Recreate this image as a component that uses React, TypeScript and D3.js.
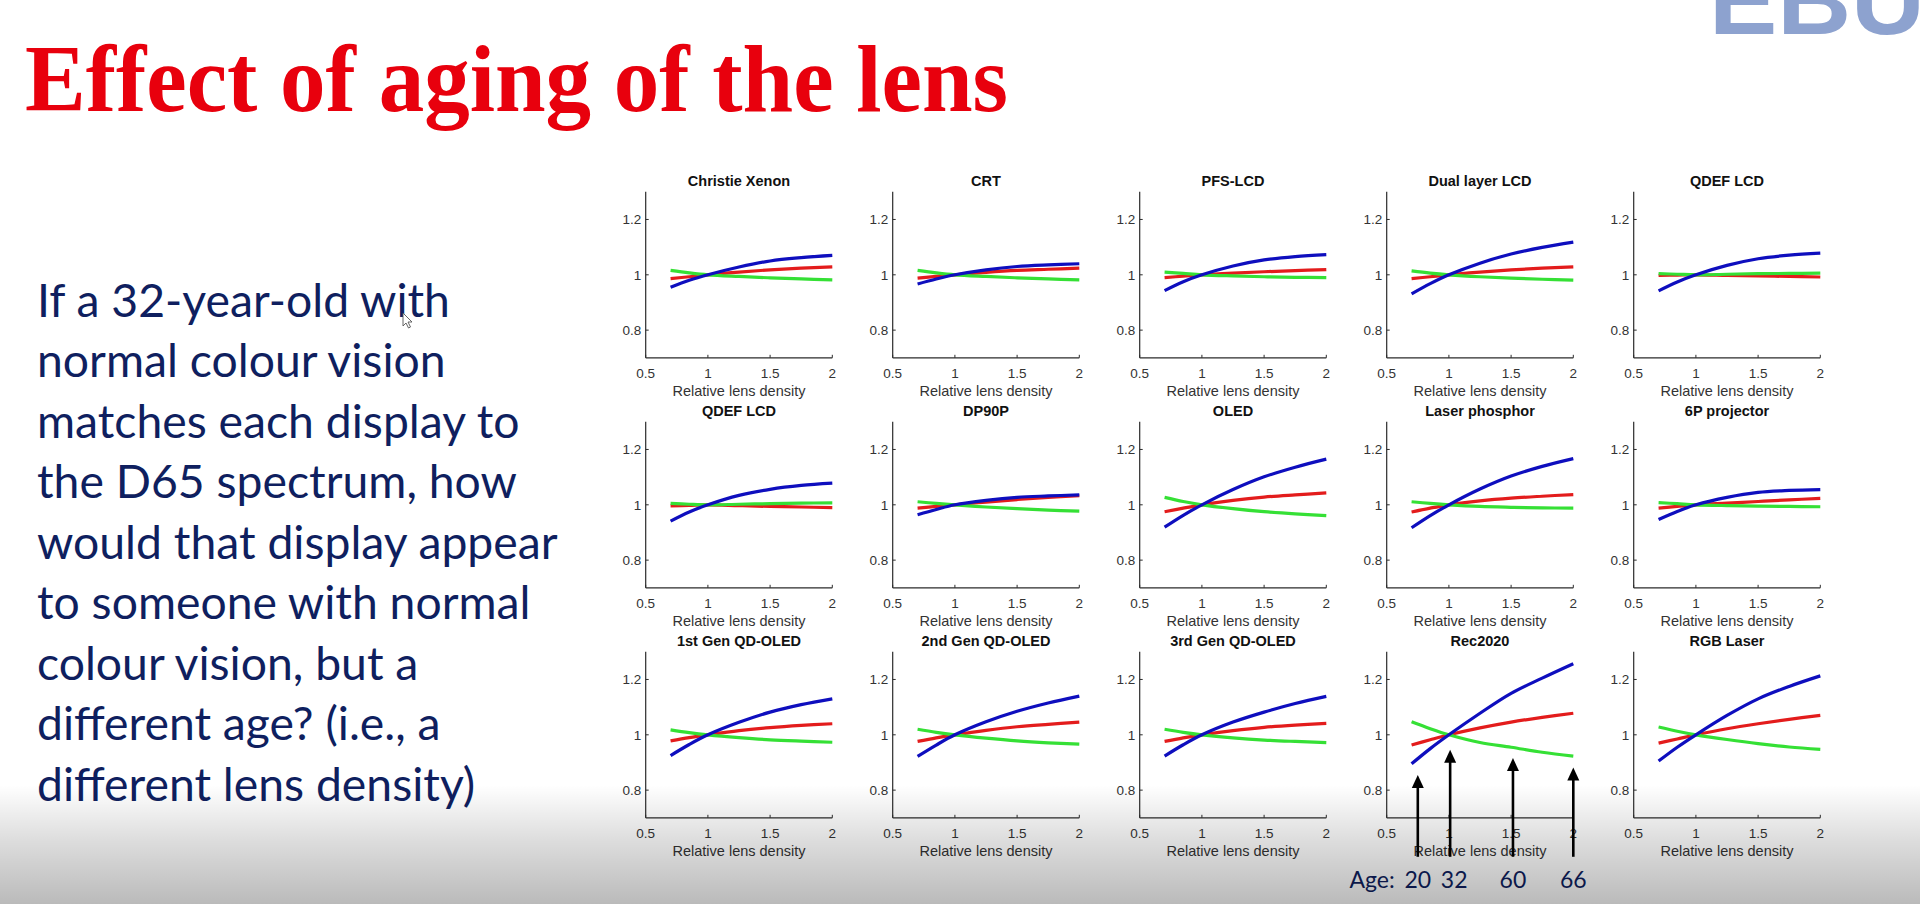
import React, { useEffect, useRef } from 'react';
import * as d3 from 'd3';

// relative lens density samples (x) shared by every panel
const lensDensity = [0.7, 0.85, 1, 1.25, 1.5, 1.75, 2];

const panelTitles = [
  'Christie Xenon', 'CRT', 'PFS-LCD', 'Dual layer LCD', 'QDEF LCD',
  'QDEF LCD', 'DP90P', 'OLED', 'Laser phosphor', '6P projector',
  '1st Gen QD-OLED', '2nd Gen QD-OLED', '3rd Gen QD-OLED', 'Rec2020', 'RGB Laser',
];

const redSeries = [
  [0.986, 0.993, 1.0, 1.01, 1.018, 1.024, 1.029],
  [0.988, 0.994, 1.0, 1.009, 1.016, 1.02, 1.024],
  [0.99, 0.995, 1.0, 1.006, 1.011, 1.015, 1.019],
  [0.986, 0.993, 1.0, 1.01, 1.018, 1.024, 1.029],
  [0.998, 0.999, 1.0, 0.998, 0.996, 0.994, 0.992],
  [0.996, 0.998, 1.0, 0.997, 0.994, 0.992, 0.99],
  [0.988, 0.994, 1.0, 1.01, 1.019, 1.027, 1.033],
  [0.975, 0.988, 1.0, 1.016, 1.028, 1.036, 1.043],
  [0.974, 0.988, 1.0, 1.014, 1.024, 1.031, 1.037],
  [0.988, 0.994, 1.0, 1.006, 1.012, 1.018, 1.023],
  [0.978, 0.99, 1.0, 1.015, 1.026, 1.034, 1.04],
  [0.976, 0.989, 1.0, 1.016, 1.029, 1.038, 1.046],
  [0.976, 0.989, 1.0, 1.015, 1.027, 1.035, 1.041],
  [0.963, 0.982, 1.0, 1.025, 1.046, 1.063, 1.078],
  [0.97, 0.985, 1.0, 1.022, 1.04, 1.056, 1.07],
];

const greenSeries = [
  [1.016, 1.007, 1.0, 0.994, 0.989, 0.985, 0.982],
  [1.016, 1.007, 1.0, 0.994, 0.989, 0.985, 0.982],
  [1.01, 1.005, 1.0, 0.996, 0.993, 0.991, 0.99],
  [1.014, 1.006, 1.0, 0.993, 0.988, 0.984, 0.981],
  [1.004, 1.002, 1.0, 1.002, 1.004, 1.005, 1.006],
  [1.005, 1.002, 1.0, 1.002, 1.004, 1.006, 1.007],
  [1.011, 1.005, 1.0, 0.992, 0.986, 0.981, 0.977],
  [1.027, 1.012, 1.0, 0.986, 0.975, 0.967, 0.961],
  [1.011, 1.005, 1.0, 0.994, 0.991, 0.989, 0.988],
  [1.008, 1.004, 1.0, 0.997, 0.995, 0.994, 0.993],
  [1.018, 1.008, 1.0, 0.99, 0.982, 0.977, 0.973],
  [1.02, 1.009, 1.0, 0.988, 0.978, 0.971, 0.966],
  [1.02, 1.009, 1.0, 0.989, 0.981, 0.976, 0.972],
  [1.047, 1.022, 1.0, 0.972, 0.955, 0.937, 0.923],
  [1.028, 1.013, 1.0, 0.983, 0.968, 0.956, 0.947],
];

const blueSeries = [
  [0.955, 0.98, 1.0, 1.028, 1.05, 1.062, 1.07],
  [0.967, 0.985, 1.0, 1.018, 1.03, 1.036, 1.04],
  [0.943, 0.975, 1.0, 1.032, 1.054, 1.066, 1.073],
  [0.931, 0.968, 1.0, 1.042, 1.075, 1.099, 1.118],
  [0.942, 0.974, 1.0, 1.034, 1.058, 1.071, 1.078],
  [0.941, 0.974, 1.0, 1.034, 1.056, 1.07, 1.078],
  [0.964, 0.983, 1.0, 1.016, 1.027, 1.032, 1.036],
  [0.919, 0.962, 1.0, 1.055, 1.101, 1.136, 1.165],
  [0.917, 0.961, 1.0, 1.057, 1.104, 1.139, 1.167],
  [0.947, 0.976, 1.0, 1.027, 1.045, 1.052, 1.055],
  [0.925, 0.965, 1.0, 1.045, 1.082, 1.109, 1.13],
  [0.922, 0.963, 1.0, 1.047, 1.085, 1.115, 1.14],
  [0.923, 0.964, 1.0, 1.046, 1.082, 1.113, 1.139],
  [0.895, 0.95, 1.0, 1.078, 1.15, 1.205, 1.257],
  [0.905, 0.955, 1.0, 1.07, 1.13, 1.175, 1.213],
];

const xTicks = [0.5, 1, 1.5, 2];
const yTicks = [0.8, 1, 1.2];

// age arrows drawn on the Rec2020 panel
const ageLabels = ['20', '32', '60', '66'];
const ageDensity = [0.75, 1.01, 1.515, 2.0];
const arrowTips = [0.855, 0.946, 0.916, 0.882];

const bodyLines = [
  'If a 32-year-old with',
  'normal colour vision',
  'matches each display to',
  'the D65 spectrum, how',
  'would that display appear',
  'to someone with normal',
  'colour vision, but a',
  'different age? (i.e., a',
  'different lens density)',
];

const W = 1920;
const H = 904;

const App: React.FC = () => {
  const svgRef = useRef<SVGSVGElement>(null);

  useEffect(() => {
    if (!svgRef.current) return;
    const svg = d3.select(svgRef.current);
    svg.selectAll('*').remove();

    svg.append('rect').attr('width', W).attr('height', H).attr('fill', '#ffffff');

    // EBU logo, cut off by the top edge of the slide
    svg.append('text')
      .attr('x', 1709)
      .attr('y', 34)
      .attr('font-family', 'Liberation Sans, Arial, sans-serif')
      .attr('font-weight', 700)
      .attr('font-size', 98)
      .attr('textLength', 216)
      .attr('lengthAdjust', 'spacingAndGlyphs')
      .attr('fill', '#8da2cf')
      .text('EBU');

    // slide title
    svg.append('text')
      .attr('x', 25)
      .attr('y', 111)
      .attr('font-family', 'Liberation Serif, Times New Roman, serif')
      .attr('font-weight', 700)
      .attr('font-size', 96)
      .attr('textLength', 983)
      .attr('lengthAdjust', 'spacingAndGlyphs')
      .attr('fill', '#e8000d')
      .text('Effect of aging of the lens');

    // body text
    svg.append('g')
      .selectAll('text')
      .data(bodyLines)
      .join('text')
      .attr('x', 37)
      .attr('y', (_, i) => 316.7 + i * 60.5)
      .attr('font-family', 'Lato, Noto Sans, sans-serif')
      .attr('font-size', 46.3)
      .attr('fill', '#0f1f5f')
      .text(d => d);

    // mouse pointer left on the slide
    svg.append('path')
      .attr('d', 'M403,313 L403,326 L406,323 L408.5,328 L410.5,327 L408,322 L412,322 Z')
      .attr('fill', '#ffffff')
      .attr('stroke', '#555555')
      .attr('stroke-width', 0.9);

    const plotW = 186.6;
    const plotH = 166;
    const colStep = 247;
    const rowStep = 230;
    const left0 = 645.7;
    const top0 = 191.8;

    const lineColors = ['#e31c1c', '#35e035', '#0e0ebe'];
    const font = 'Liberation Sans, Arial, Helvetica, sans-serif';

    panelTitles.forEach((title, p) => {
      const col = p % 5;
      const row = Math.floor(p / 5);
      const x0 = left0 + col * colStep;
      const y0 = top0 + row * rowStep;

      const xScale = d3.scaleLinear().domain([0.5, 2]).range([x0, x0 + plotW]);
      const yScale = d3.scaleLinear().domain([0.7, 1.3]).range([y0 + plotH, y0]);

      const g = svg.append('g');

      // axes (box off, MATLAB style)
      g.append('line')
        .attr('x1', xScale(0.5)).attr('x2', xScale(2))
        .attr('y1', yScale(0.7)).attr('y2', yScale(0.7))
        .attr('stroke', '#2b2b2b').attr('stroke-width', 1.2);
      g.append('line')
        .attr('x1', xScale(0.5)).attr('x2', xScale(0.5))
        .attr('y1', yScale(0.7)).attr('y2', yScale(1.3))
        .attr('stroke', '#2b2b2b').attr('stroke-width', 1.2);

      g.selectAll('.xt')
        .data(xTicks)
        .join('line')
        .attr('x1', d => xScale(d)).attr('x2', d => xScale(d))
        .attr('y1', yScale(0.7)).attr('y2', yScale(0.7) - 3)
        .attr('stroke', '#2b2b2b').attr('stroke-width', 1);
      g.selectAll('.yt')
        .data(yTicks)
        .join('line')
        .attr('x1', xScale(0.5)).attr('x2', xScale(0.5) + 3)
        .attr('y1', d => yScale(d)).attr('y2', d => yScale(d))
        .attr('stroke', '#2b2b2b').attr('stroke-width', 1);

      g.selectAll('.xl')
        .data(xTicks)
        .join('text')
        .attr('x', d => xScale(d))
        .attr('y', yScale(0.7) + 20.5)
        .attr('text-anchor', 'middle')
        .attr('font-family', font)
        .attr('font-size', 13.5)
        .attr('fill', '#333333')
        .text(d => String(d));

      g.selectAll('.yl')
        .data(yTicks)
        .join('text')
        .attr('x', xScale(0.5) - 4.5)
        .attr('y', d => yScale(d))
        .attr('dy', '0.35em')
        .attr('text-anchor', 'end')
        .attr('font-family', font)
        .attr('font-size', 13.5)
        .attr('fill', '#333333')
        .text(d => String(d));

      g.append('text')
        .attr('x', xScale(1.25))
        .attr('y', yScale(0.7) + 38.5)
        .attr('text-anchor', 'middle')
        .attr('font-family', font)
        .attr('font-size', 14.5)
        .attr('fill', '#333333')
        .text('Relative lens density');

      g.append('text')
        .attr('x', xScale(1.25))
        .attr('y', yScale(1.3) - 5.5)
        .attr('text-anchor', 'middle')
        .attr('font-family', font)
        .attr('font-weight', 700)
        .attr('font-size', 14.5)
        .attr('fill', '#111111')
        .text(title);

      const line = d3.line<number>()
        .x((_, i) => xScale(lensDensity[i]))
        .y(d => yScale(d))
        .curve(d3.curveCatmullRom.alpha(0.5));

      [redSeries[p], greenSeries[p], blueSeries[p]].forEach((vals, k) => {
        g.append('path')
          .attr('d', line(vals) ?? '')
          .attr('fill', 'none')
          .attr('stroke', lineColors[k])
          .attr('stroke-width', 3.2);
      });

      // age arrows on the Rec2020 panel
      if (title === 'Rec2020') {
        const base = yScale(0.7) + 39;
        ageDensity.forEach((xd, i) => {
          const ax = xScale(xd);
          const tip = yScale(arrowTips[i]);
          const headH = 13;
          const headW = 6;
          g.append('line')
            .attr('x1', ax).attr('x2', ax)
            .attr('y1', base).attr('y2', tip + headH - 1)
            .attr('stroke', '#000000').attr('stroke-width', 2.6);
          g.append('path')
            .attr('d', `M${ax},${tip} L${ax - headW},${tip + headH} L${ax + headW},${tip + headH} Z`)
            .attr('fill', '#000000');
        });

        g.append('text')
          .attr('x', xScale(0.5) + 8)
          .attr('y', 888)
          .attr('text-anchor', 'end')
          .attr('font-family', 'Lato, Noto Sans, sans-serif')
          .attr('font-size', 23)
          .attr('fill', '#0f1f5f')
          .text('Age:');

        g.selectAll('.age')
          .data(ageLabels)
          .join('text')
          .attr('x', (_, i) => xScale(ageDensity[i]) + (i === 1 ? 4 : 0))
          .attr('y', 888)
          .attr('text-anchor', 'middle')
          .attr('font-family', 'Lato, Noto Sans, sans-serif')
          .attr('font-size', 23)
          .attr('fill', '#0f1f5f')
          .text(d => d);
      }
    });

    // grey video-player shading at the bottom
    const defs = svg.append('defs');
    const grad = defs.append('linearGradient')
      .attr('id', 'bottomShade')
      .attr('x1', 0).attr('y1', 0).attr('x2', 0).attr('y2', 1);
    grad.append('stop').attr('offset', '0%').attr('stop-color', '#000').attr('stop-opacity', 0);
    grad.append('stop').attr('offset', '45%').attr('stop-color', '#000').attr('stop-opacity', 0.13);
    grad.append('stop').attr('offset', '100%').attr('stop-color', '#000').attr('stop-opacity', 0.27);
    svg.append('rect')
      .attr('x', 0).attr('y', 785)
      .attr('width', W).attr('height', H - 785)
      .attr('fill', 'url(#bottomShade)');
  }, []);

  return (
    <svg
      ref={svgRef}
      width={W}
      height={H}
      viewBox={`0 0 ${W} ${H}`}
      style={{ position: 'absolute', left: 0, top: 0, display: 'block' }}
    />
  );
};

export default App;
